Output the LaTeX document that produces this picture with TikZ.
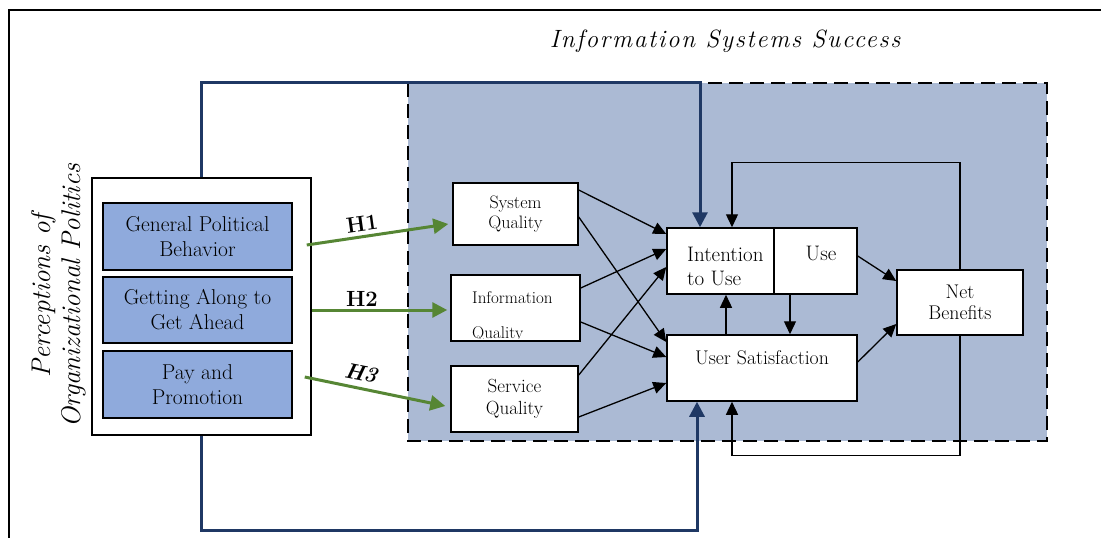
\documentclass[tikz,border=0pt]{standalone}
\usepackage{fontspec}
\usepackage{tikz}
\usetikzlibrary{arrows.meta}

\newfontfamily\spacedfont[LetterSpace=7]{Latin Modern Roman}

\definecolor{issfill}{RGB}{171,186,212}
\definecolor{popfill}{RGB}{143,170,220}
\definecolor{navyline}{RGB}{31,56,100}
\definecolor{hypgreen}{RGB}{86,134,52}

\tikzset{
  stdbox/.style={draw, line width=1.5pt, fill=white, inner sep=0pt, align=center},
  popbox/.style={draw, line width=1.5pt, fill=popfill, minimum width=189pt, inner sep=0pt, align=center, font=\fontsize{21.5}{25}\selectfont},
  link/.style={line width=1.3pt, -{Triangle[length=13pt,width=12pt]}},
  ctrl/.style={navyline, line width=3pt, -{Triangle[length=15pt,width=15pt]}},
  hyp/.style={hypgreen, line width=3pt, -{Triangle[length=15pt,width=15pt]}},
  hlabel/.style={inner sep=0.75pt, font=\fontsize{22}{26}\selectfont\bfseries},
}

\begin{document}
\begin{tikzpicture}[x=1pt,y=1pt,yscale=-1,xscale=1]
\useasboundingbox (0,0) rectangle (1101,538);
%Frame
\draw [line width=1.2pt]  (9,538) -- (9,10) -- (1102,10) ;
%IS success area
\fill [issfill]  (408,83) rectangle (1047,441) ;
\draw [line width=2.5pt, dash pattern={on 14pt off 7pt}]  (408,83) rectangle (1047,441) ;
% Text Node
\node [font=\spacedfont\itshape\fontsize{25}{29}\selectfont] (isstitle) at (725,41) {Information Systems Success};

%Perceptions of organizational politics
\node [draw, line width=1.5pt, fill=white, minimum width=219pt, minimum height=257pt] (pop) at (201.5,306.5) {};
\node [popbox, minimum height=67pt] (gpb) at (197.5,236.5) {General Political\\Behavior};
\node [popbox, minimum height=66pt] (gaga) at (197.5,310) {Getting Along to\\Get Ahead};
\node [popbox, minimum height=67pt] (pp) at (197.5,384.5) {Pay and\\Promotion};
% Text Node
\node [rotate=90, align=center, font=\itshape\fontsize{27}{30}\selectfont] (poplabel) at (59,296) {Perceptions of\\Organizational Politics};

%Quality dimensions
\node [stdbox, minimum width=125pt, minimum height=62pt, font=\fontsize{18}{20}\selectfont] (sysq) at (515.5,214) {System\\Quality};
\node [stdbox, minimum width=129pt, minimum height=66pt] (infq) at (515.5,308) {};
\begin{scope}
\clip (451,275) rectangle (580,338) ;
\node [anchor=base west, inner sep=0pt, font=\fontsize{17}{20}\selectfont] (infqa) at (472,303) {Information};
\node [anchor=base west, inner sep=0pt, font=\fontsize{17}{20}\selectfont] (infqb) at (472,338) {Quality};
\end{scope}
\node [stdbox, minimum width=127pt, minimum height=66pt, font=\fontsize{19}{22}\selectfont] (servq) at (514.5,399) {Service\\Quality};

%Use, satisfaction, net benefits
\node [stdbox, minimum width=107pt, minimum height=66pt] (intent) at (720.5,261) {};
\node [stdbox, minimum width=83pt, minimum height=66pt] (use) at (815.5,261) {};
\node [stdbox, minimum width=190pt, minimum height=66pt] (usat) at (762,368) {};
\node [stdbox, minimum width=126pt, minimum height=65pt, font=\fontsize{19.8}{21}\selectfont] (net) at (960,302.5) {Net\\Benefits};
% Text Node
\node [anchor=west, inner sep=0pt, align=left, font=\fontsize{21}{24}\selectfont] (intentlabel) at (687,266) {Intention\\to Use};
\node [inner sep=0pt, font=\fontsize{21}{24}\selectfont] (uselabel) at (821,253) {Use};
\node [inner sep=0pt, font=\fontsize{19.8}{22}\selectfont] (usatlabel) at (762,358) {User Satisfaction};

%Straight Lines
\draw [link]  ([yshift=-24pt]sysq.east) -- ([yshift=-27pt]intent.west) ;
\draw [link]  ([yshift=3pt]sysq.east) -- ([yshift=-26pt]usat.west) ;
\draw [link]  ([yshift=-20pt]infq.east) -- ([yshift=-12pt]intent.west) ;
\draw [link]  ([yshift=14pt]infq.east) -- ([yshift=-11pt]usat.west) ;
\draw [link]  ([yshift=-24pt]servq.east) -- ([yshift=6pt]intent.west) ;
\draw [link]  ([yshift=18pt]servq.east) -- ([yshift=15pt]usat.west) ;
\draw [link]  ([yshift=-5pt]use.east) -- ([yshift=-21.5pt]net.west) ;
\draw [link]  ([yshift=-6pt]usat.east) -- ([yshift=21.5pt]net.west) ;
\draw [link]  ([xshift=-36pt]usat.north) -- ([xshift=-36pt]usat.north |- intent.south) ;
\draw [link]  ([xshift=-25.5pt]use.south) -- ([xshift=-25.5pt]use.south |- usat.north) ;
%Feedback loops
\draw [link]  (net.north) -- ++(0,-107) -| ([xshift=11.5pt]intent.north) ;
\draw [link]  (net.south) -- ++(0,120) -| ([xshift=-30pt]usat.south) ;

%Control paths
\draw [ctrl]  (pop.north) -- ++(0,-95) -| ([xshift=-20.5pt]intent.north) ;
\draw [ctrl]  (pop.south) -- ++(0,95) -| ([xshift=-65pt]usat.south) ;

%Hypotheses
\draw [hyp]  ([xshift=14pt,yshift=8.5pt]gpb.east) -- ([xshift=-4pt,yshift=10pt]sysq.west) ;
\draw [hyp]  (gaga.east -| pop.east) -- ([xshift=-3pt,yshift=2pt]infq.west) ;
\draw [hyp]  ([xshift=12pt,yshift=-7.5pt]pp.east) -- ([xshift=-5pt,yshift=7pt]servq.west) ;
% Text Node
\node [hlabel, rotate=8] (h1) at (362,224) {H1};
\node [hlabel] (h2) at (362,299) {H2};
\node [hlabel, rotate=-11, font=\fontsize{22}{26}\selectfont\bfseries\itshape] (h3) at (361,373) {H3};

\end{tikzpicture}
\end{document}
